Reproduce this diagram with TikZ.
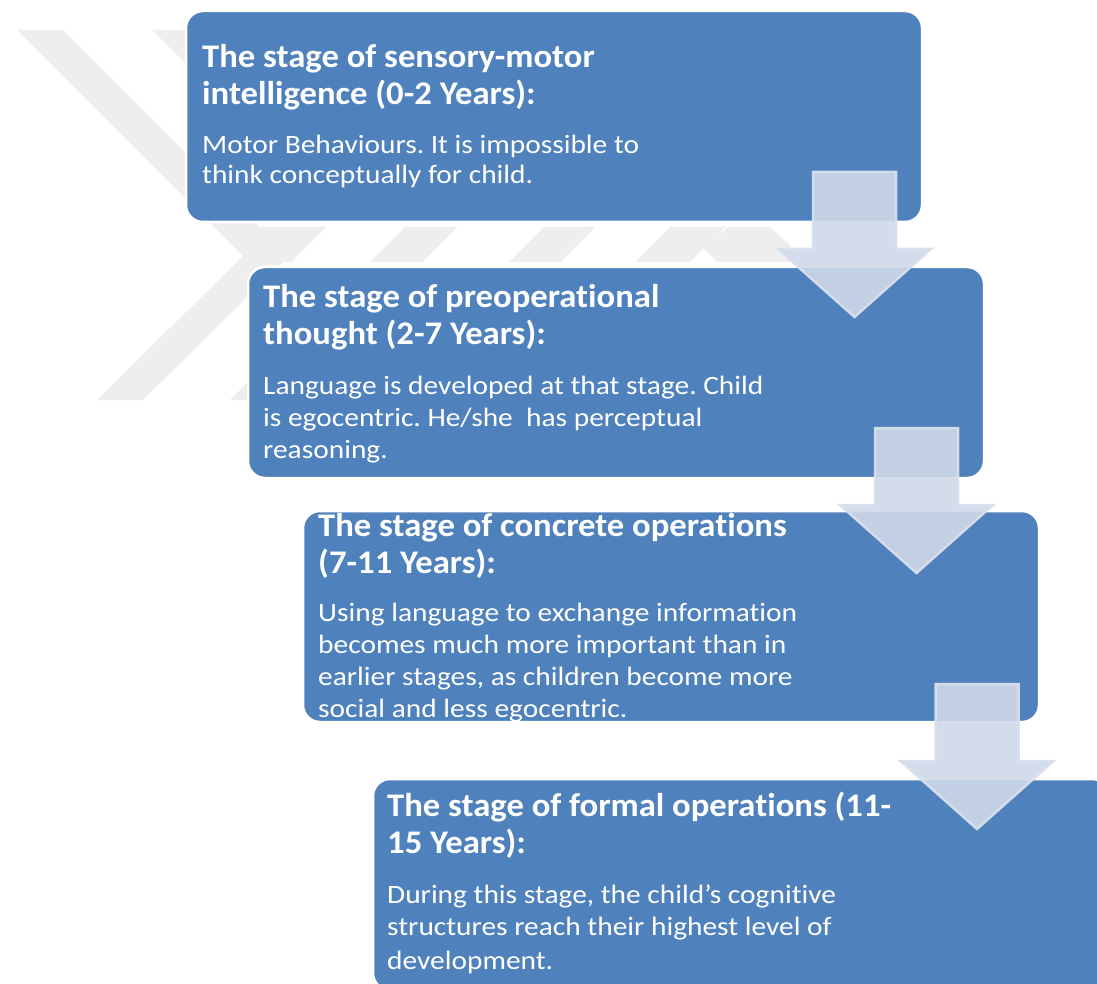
\documentclass[tikz,border=0pt]{standalone}
\usepackage{fontspec}
\setmainfont{Carlito}[Ligatures=NoCommon]
\newfontfamily\headfont{Carlito}[Ligatures=NoCommon, FakeStretch=1.05]
\newfontfamily\bodyfont{Carlito}[Ligatures=NoCommon, FakeStretch=1.11]
\usetikzlibrary{calc}
\frenchspacing
\definecolor{stagefill}{RGB}{79,129,189}
\definecolor{markgrey}{RGB}{238,238,238}
\definecolor{arrowfill}{RGB}{208,216,232}
\definecolor{arrowedge}{RGB}{216,223,237}
\tikzset{
  stagebox/.style={draw=white, line width=2.5pt, fill=stagefill, rounded corners=17pt,
    minimum width=736pt, minimum height=211pt, anchor=north west, inner sep=0pt, outer sep=0pt},
  headline/.style={anchor=base west, inner sep=0pt, text=white,
    font=\headfont\bfseries\fontsize{33}{37}\selectfont},
  bodyline/.style={anchor=base west, inner sep=0pt, text=white,
    font=\bodyfont\fontsize{26.5}{30}\selectfont},
  wmark/.style={fill=markgrey},
  pics/downarrow/.style={code={
    \draw[fill=arrowfill, fill opacity=0.9, draw=arrowedge, draw opacity=0.95,
      line width=2.5pt, line join=miter]
      (-41.5,0) -- (41.5,0) -- (41.5,77) -- (76.5,77) -- (0,145)
      -- (-76.5,77) -- (-41.5,77) -- cycle;}}
}
\begin{document}
\begin{tikzpicture}[x=1pt, y=-1pt]
  \clip (0,0) rectangle (1097,984);
  \fill[white] (0,0) rectangle (1097,984);

  % faint background emblem
  \fill[wmark] (17,30) -- (63,30) -- (289,256) -- (143,400) -- (97,400) -- (243,256) -- cycle;
  \fill[wmark] (152,30) -- (198,30) -- (390,222) -- (344,222) -- cycle;
  \fill[wmark] (230,400) -- (276,400) -- (408,268) -- (362,268) -- cycle;
  \fill[wmark] (216,227) -- (326,227) -- (291,262) -- (250,262) -- cycle;
  \fill[wmark] (405,227) -- (457,227) -- (422,262) -- (370,262) -- cycle;
  \fill[wmark] (544,227) -- (595,227) -- (560,262) -- (509,262) -- cycle;
  \fill[wmark] (670,227) -- (725,227) -- (690,262) -- (635,262) -- cycle;
  \fill[wmark] (729,227) -- (770,227) -- (790,245) -- (790,262) -- (717,262) -- (702,247) -- cycle;

  % stage boxes
  \node[stagebox] (s1) at (186,11) {};
  \node[stagebox] (s2) at (248,267) {};
  \node[stagebox] (s3) at (303,511) {};
  \node[stagebox] (s4) at (373,779) {};

  % stage 1
  \node[headline] (h1a) at (202,68) {The stage of sensory-motor};
  \node[headline] (h1b) at (202,105) {intelligence (0-2 Years):};
  \node[bodyline] (b1a) at (202,154) {Motor Behaviours. It is impossible to};
  \node[bodyline] (b1b) at (202,184) {think conceptually for child.};

  % stage 2
  \node[headline] (h2a) at (263,307) {The stage of preoperational};
  \node[headline] (h2b) at (263,344) {thought (2-7 Years):};
  \node[bodyline] (b2a) at (263,394) {Language is developed at that stage. Child};
  \node[bodyline] (b2b) at (263,426) {is egocentric. He/she\ \ has perceptual};
  \node[bodyline] (b2c) at (263,458) {reasoning.};

  % stage 3
  \node[headline] (h3a) at (318,536) {The stage of concrete operations};
  \node[headline] (h3b) at (318,573) {(7-11 Years):};
  \node[bodyline] (b3a) at (318,621) {Using language to exchange information};
  \node[bodyline] (b3b) at (318,653) {becomes much more important than in};
  \node[bodyline] (b3c) at (318,685) {earlier stages, as children become more};
  \node[bodyline] (b3d) at (318,717) {social and less egocentric.};

  % stage 4
  \node[headline] (h4a) at (387,816) {The stage of formal operations (11-};
  \node[headline] (h4b) at (387,853) {15 Years):};
  \node[bodyline] (b4a) at (387,903) {During this stage, the child’s cognitive};
  \node[bodyline] (b4b) at (387,935) {structures reach their highest level of};
  \node[bodyline] (b4c) at (387,969) {development.};

  % transition arrows between the stages
  \pic at ($(s1.south east)+(-67.5,-50)$) {downarrow};
  \pic at ($(s2.south east)+(-67.5,-50)$) {downarrow};
  \pic at ($(s3.south east)+(-62,-38)$) {downarrow};
\end{tikzpicture}
\end{document}
